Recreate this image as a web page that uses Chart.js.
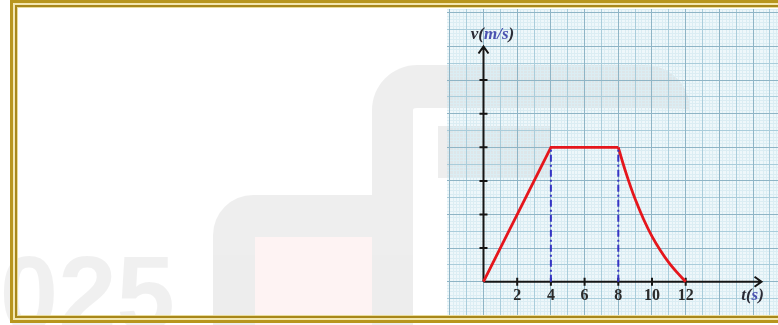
<!DOCTYPE html>
<html>
<head>
<meta charset="utf-8">
<script src="https://cdn.jsdelivr.net/npm/chart.js@4.4.1/dist/chart.umd.min.js"></script>
<style>
html, body { margin: 0; padding: 0; background: #fff; overflow: hidden; }
#stage { position: relative; width: 778px; height: 325px; overflow: hidden; }
#paper { position: absolute; left: 447px; top: 9px; width: 331px; height: 306px; background: #eef7fa; z-index: 1; }
.wm { position: absolute; z-index: 2; box-sizing: border-box; }
#wmA { left: 372px; top: 65px; width: 318px; height: 280px; border-top: 43px solid rgba(0,0,0,0.065); border-left: 41px solid rgba(0,0,0,0.065); border-radius: 45px 45px 0 0; }
#wmB { left: 213px; top: 195px; width: 159px; height: 140px; border-top: 42px solid rgba(0,0,0,0.065); border-left: 42px solid rgba(0,0,0,0.065); border-radius: 40px 0 0 0; }
#wmPink { left: 255px; top: 237px; width: 117px; height: 90px; background: rgba(235,90,90,0.07); }
#wmC { left: 438px; top: 126px; width: 112px; height: 52px; background: rgba(0,0,0,0.065); }
#wmYear { position: absolute; z-index: 2; right: 603px; top: 241px; font: bold 105px "Liberation Sans", Arial, sans-serif; line-height: 105px; color: rgba(0,0,0,0.06); }
#chartVT { position: absolute; left: 447px; top: 9px; z-index: 3; }
#frame { position: absolute; left: 10px; top: 0px; width: 790px; height: 323px; box-sizing: border-box; border: 3px solid #b8961e; box-shadow: inset 0 0 0 2px #f3e7b0, inset 0 0 0 4px #a8871a, inset 0 0 0 5px #e9dc9c; z-index: 4; }
</style>
</head>
<body>
<div id="stage">
  <div id="paper"></div>
  <div class="wm" id="wmA"></div>
  <div class="wm" id="wmB"></div>
  <div class="wm" id="wmPink"></div>
  <div class="wm" id="wmC"></div>
  <div id="wmYear">2025</div>
  <canvas id="chartVT" width="331" height="306"></canvas>
  <div id="frame"></div>
</div>
<script>
// v-t graph: speed up, cruise, then slow down along a curve
const phaseT = [0, 4, 8];
const phaseV = [0, 4, 4];
const brakeT = [8, 8.25, 8.5, 8.75, 9, 9.5, 10, 10.5, 11, 11.5, 12];
const brakeV = [4, 3.57, 3.17, 2.8, 2.46, 1.86, 1.35, 0.93, 0.57, 0.27, 0];
const guideT = [4, 8];
const guideV = [4, 4];
const xTickLabels = [2, 4, 6, 8, 10, 12];
const yTickMarks = [1, 2, 3, 4, 5, 6];
const xArrowAt = 16.5;
const yArrowAt = 7.0;

// visible window of the graph paper (in data units)
const xMin = -2.166, xMax = 17.478;
const yMin = -0.991, yMax = 8.116;

function gridScale(axis, min, max, step, color, z) {
    return {
        type: 'linear',
        axis: axis,
        position: axis === 'x' ? 'bottom' : 'left',
        min: min,
        max: max,
        ticks: { display: false },
        border: { display: false },
        grid: { color: color, lineWidth: 1, drawTicks: false, z: z },
        afterBuildTicks: (s) => {
            const t = [];
            for (let i = Math.ceil(min / step - 1e-9); i * step <= max; i++) {
                t.push({ value: i * step });
            }
            s.ticks = t;
        },
        afterFit: (s) => {
            if (axis === 'x') s.height = 0;
            else s.width = 0;
        }
    };
}

function drawParts(ctx, parts, cx, cy) {
    let total = 0;
    for (const p of parts) total += ctx.measureText(p[0]).width;
    let x = cx - total / 2;
    ctx.textAlign = 'left';
    for (const p of parts) {
        ctx.fillStyle = p[1];
        ctx.fillText(p[0], x, cy);
        x += ctx.measureText(p[0]).width;
    }
}

const axesPlugin = {
    id: 'axes',
    beforeDatasetsDraw(chart) {
        const { ctx, scales: { x, y } } = chart;
        const x0 = x.getPixelForValue(0), y0 = y.getPixelForValue(0);
        const xEnd = x.getPixelForValue(xArrowAt), yEnd = y.getPixelForValue(yArrowAt);
        ctx.save();
        ctx.strokeStyle = '#151515';
        ctx.lineWidth = 2;
        ctx.beginPath();
        ctx.moveTo(x0, y0); ctx.lineTo(xEnd, y0);
        ctx.moveTo(x0, y0); ctx.lineTo(x0, yEnd);
        ctx.moveTo(xEnd - 7, y0 - 5); ctx.lineTo(xEnd, y0); ctx.lineTo(xEnd - 7, y0 + 5);
        ctx.moveTo(x0 - 5, yEnd + 7); ctx.lineTo(x0, yEnd); ctx.lineTo(x0 + 5, yEnd + 7);
        for (const t of xTickLabels) {
            const px = x.getPixelForValue(t);
            ctx.moveTo(px, y0 - 4); ctx.lineTo(px, y0 + 4);
        }
        for (const v of yTickMarks) {
            const py = y.getPixelForValue(v);
            ctx.moveTo(x0 - 4, py); ctx.lineTo(x0 + 4, py);
        }
        ctx.stroke();
        ctx.restore();
    },
    afterDatasetsDraw(chart) {
        const { ctx, scales: { x, y } } = chart;
        const y0 = y.getPixelForValue(0);
        ctx.save();
        ctx.textBaseline = 'middle';
        ctx.font = 'bold 16px "Liberation Serif", serif';
        ctx.fillStyle = '#2a2a2a';
        ctx.textAlign = 'center';
        for (const t of xTickLabels) {
            ctx.fillText(String(t), x.getPixelForValue(t), y0 + 14);
        }
        ctx.font = 'italic bold 17px "Liberation Serif", serif';
        drawParts(ctx, [['v(', '#2a2a35'], ['m/s', '#4a52b0'], [')', '#2a2a35']],
            x.getPixelForValue(0) + 9, y.getPixelForValue(yArrowAt) - 12);
        drawParts(ctx, [['t(', '#2a2a35'], ['s', '#4a52b0'], [')', '#2a2a35']],
            x.getPixelForValue(xArrowAt) - 9, y0 + 14);
        ctx.restore();
    }
};

const datasets = [];
for (let i = 0; i < guideT.length; i++) {
    datasets.push({
        data: [{ x: guideT[i], y: 0 }, { x: guideT[i], y: guideV[i] }],
        borderColor: '#3434c4',
        borderWidth: 2,
        borderDash: [7, 3, 2, 3],
        xAxisID: 'x', yAxisID: 'y'
    });
}
datasets.push({
    data: phaseT.map((t, i) => ({ x: t, y: phaseV[i] })),
    borderColor: '#e5161c',
    borderWidth: 2.8,
    xAxisID: 'x', yAxisID: 'y'
});
datasets.push({
    data: brakeT.map((t, i) => ({ x: t, y: brakeV[i] })),
    borderColor: '#e5161c',
    borderWidth: 2.8,
    cubicInterpolationMode: 'monotone',
    xAxisID: 'x', yAxisID: 'y'
});

new Chart(document.getElementById('chartVT'), {
    type: 'line',
    data: { datasets: datasets },
    options: {
        responsive: false,
        animation: false,
        devicePixelRatio: 1,
        layout: { padding: 0 },
        plugins: { legend: { display: false }, tooltip: { enabled: false } },
        elements: { point: { radius: 0 }, line: { borderCapStyle: 'butt' } },
        scales: {
            x: gridScale('x', xMin, xMax, 2, '#8fb5c6', -1),
            xMid: gridScale('x', xMin, xMax, 1, '#aacddb', -2),
            xMinor: gridScale('x', xMin, xMax, 0.2, '#dbedf3', -3),
            y: gridScale('y', yMin, yMax, 1, '#8fb5c6', -1),
            yMid: gridScale('y', yMin, yMax, 0.5, '#aacddb', -2),
            yMinor: gridScale('y', yMin, yMax, 0.1, '#dbedf3', -3)
        }
    },
    plugins: [axesPlugin]
});
</script>
</body>
</html>
